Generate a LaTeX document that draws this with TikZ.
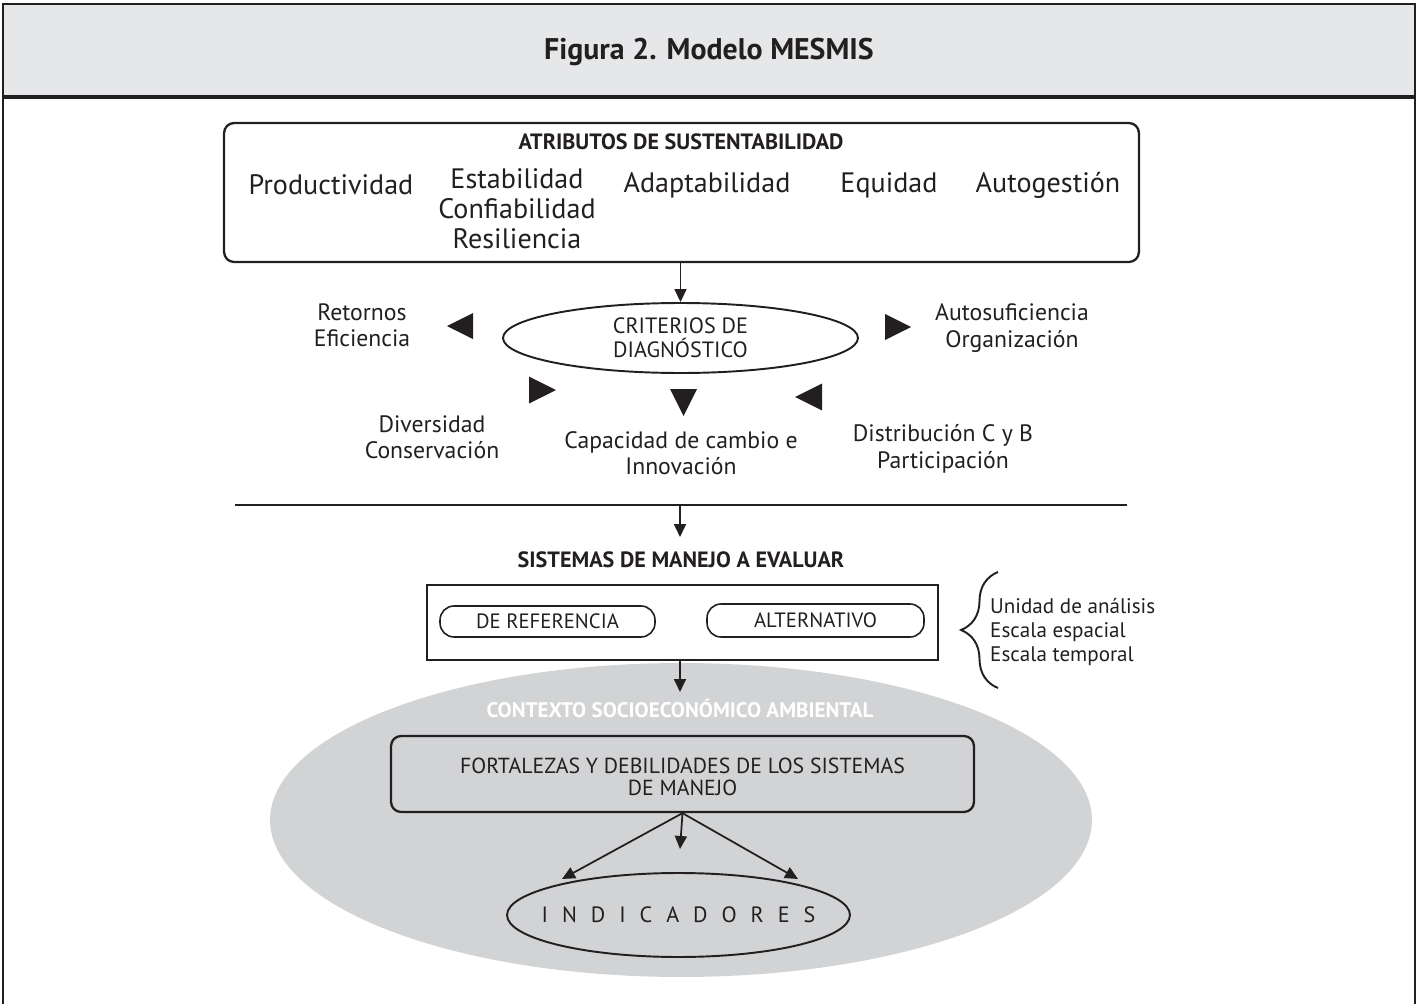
\documentclass[tikz,border=0pt]{standalone}
\usepackage{fontspec}
\setmainfont{PT Sans}
\usetikzlibrary{arrows.meta, positioning, shapes.geometric, decorations.pathreplacing}
\definecolor{Ink}{RGB}{35,31,32}
\definecolor{Band}{RGB}{230,231,232}
\definecolor{Ctx}{RGB}{209,211,212}
\newcommand{\fsz}[2]{\fontsize{#1}{#2}\selectfont}

\begin{document}
\begin{tikzpicture}[x=0.02cm, y=-0.02cm,
  ttl/.style={font=\bfseries\fsz{17}{20}, text=Ink},
  hdr/.style={font=\bfseries\fsz{12.6}{14}, text=Ink},
  attr/.style={font=\fsz{16}{17}, text=Ink, align=center},
  crit/.style={font=\fsz{13.5}{15}, text=Ink, align=center},
  caps/.style={font=\fsz{11.8}{12.8}, text=Ink, align=center},
  note/.style={font=\fsz{12}{13.4}, text=Ink, align=left, anchor=west},
  rbox/.style={draw=Ink, line width=1.3pt, rounded corners=0.2cm, inner sep=0pt},
  sbox/.style={draw=Ink, line width=1.3pt, inner sep=0pt},
  pill/.style={draw=Ink, line width=0.9pt, rounded corners=0.28cm, inner sep=0pt},
  oval/.style={draw=Ink, ellipse, line width=1.1pt, inner sep=0pt},
  flow/.style={draw=Ink, line width=1pt, -{Triangle[length=0.26cm, width=0.24cm]}}
]
\useasboundingbox (0,0) rectangle (1418,1004);

% Frame and title band
\fill[Band] (3,4) rectangle (1415,97);
\draw[Ink, line width=1.6pt] (3,1004) -- (3,4) -- (1415,4) -- (1415,1004);
\draw[Ink, line width=2pt] (3,97) -- (1415,97);
\node[ttl] (title) at (709,52) {Figura 2. Modelo MESMIS};

% Attributes
\node[rbox, minimum width=18.3cm, minimum height=2.78cm] (attrbox) at (681.5,192.5) {};
\node[hdr] (attrhdr) at (681,142) {ATRIBUTOS DE SUSTENTABILIDAD};
\node[attr] (prod) at (331,185) {Productividad};
\node[attr] (estab) at (517,209) {Estabilidad\\Confiabilidad\\Resiliencia};
\node[attr] (adapt) at (707,185) {Adaptabilidad};
\node[attr] (equid) at (889,185) {Equidad};
\node[attr] (autog) at (1048,185) {Autogestión};

% Diagnostic criteria
\node[oval, caps, font=\fsz{12.6}{13.5}, minimum width=7.1cm, minimum height=1.4cm] (crit) at (680.5,338) {CRITERIOS DE\\DIAGNÓSTICO};
\draw[flow] (crit.north |- attrbox.south) -- (crit.north);
\node[crit] (retor) at (362,325) {Retornos\\Eficiencia};
\node[crit] (autos) at (1012,328) {Autosuficiencia\\Organización};
\node[crit] (diver) at (432,437) {Diversidad\\Conservación};
\node[crit] (capac) at (681,453) {Capacidad de cambio e\\Innovación};
\node[crit] (distr) at (943,449) {Distribución C y B\\Participación};

% Triangles: tip x/y, then tip-to-base vector
\foreach \tx/\ty/\dx/\dy in {447/326/26/0, 911/327/-26/0, 556/390/-27/0,
                             683.5/416/0/-27, 795/397/27/0}{
  \fill[Ink] (\tx,\ty) -- ({\tx+\dx-\dy/2},{\ty+\dy+\dx/2})
                       -- ({\tx+\dx+\dy/2},{\ty+\dy-\dx/2}) -- cycle;}

% Rule and systems
\coordinate (ruleL) at (235,505);
\coordinate (ruleR) at (1127,505);
\coordinate (ruleM) at (680,505);
\coordinate (sisttip) at (680,537);
\draw[Ink, line width=1.3pt] (ruleL) -- (ruleR);
\draw[flow] (ruleM) -- (sisttip);
\node[hdr] (sisthdr) at (681,560) {SISTEMAS DE MANEJO A EVALUAR};
\node[sbox, minimum width=10.22cm, minimum height=1.5cm] (sist) at (682.5,622.5) {};
\node[pill, caps, minimum width=4.3cm, minimum height=0.62cm] (ref) at (547.5,621.5) {DE REFERENCIA};
\node[pill, caps, minimum width=4.34cm, minimum height=0.66cm] (alt) at (815.5,620.5) {ALTERNATIVO};
\draw[Ink, line width=1.1pt, decorate, decoration={brace, amplitude=0.74cm}]
  (998,688) -- (998,572);
\node[note] (unid) at (984,632) {Unidad de análisis\\Escala espacial\\Escala temporal};

% Context
\node[ellipse, fill=Ctx, inner sep=0pt, minimum width=16.44cm, minimum height=6.28cm] (ctx) at (681,820) {};
\coordinate (ctxtip) at (680,692);
\draw[flow] (ctxtip |- sist.south) -- (ctxtip);
\node[font=\bfseries\fsz{12}{13}, text=white] (ctxlbl) at (680,708) {CONTEXTO SOCIOECONÓMICO AMBIENTAL};
\node[rbox, caps, font=\fsz{12.4}{12.8}, minimum width=11.66cm, minimum height=1.52cm] (fort) at (682.5,774)
  {\rule{0pt}{12pt}FORTALEZAS Y DEBILIDADES DE LOS SISTEMAS\\DE MANEJO};
\node[oval, minimum width=6.86cm, minimum height=1.68cm] (ind) at (678.5,915) {};
\node[caps, font=\fsz{12.6}{13}] (indlbl) at (ind.center) {{\spaceskip=0.63em I N D I C A D O R E S}};
\coordinate (indL) at (562,879);
\coordinate (indM) at (680,849);
\coordinate (indR) at (798,879);
\foreach \t in {indL, indM, indR}
  \draw[flow] (fort.south) -- (\t);
\end{tikzpicture}
\end{document}
